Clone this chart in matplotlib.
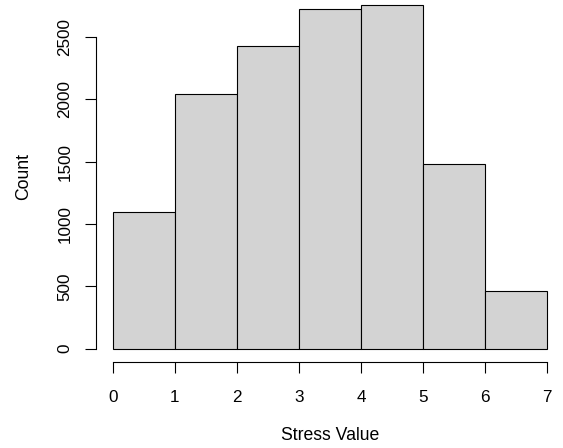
import numpy as np
import matplotlib
matplotlib.use("Agg")
import matplotlib.pyplot as plt

# histogram bins and counts
bin_edges = [0, 1, 2, 3, 4, 5, 6, 7]
counts = [1094, 2042, 2427, 2727, 2754, 1481, 460]
x_ticks = [0, 1, 2, 3, 4, 5, 6, 7]
y_ticks = [0, 500, 1000, 1500, 2000, 2500]

plt.rcParams['font.family'] = ['Liberation Sans', 'DejaVu Sans']

W, H = 563, 448
fig = plt.figure(figsize=(W / 100, H / 100), dpi=100)

# axes in pixel terms (R style, extends past the cropped top/right)
left, right, bottom, top = 95.6, 564.4, 362.4, -8.4
ax = fig.add_axes([left / W, (H - bottom) / H, (right - left) / W, (bottom - top) / H])

edges = np.array(bin_edges, dtype=float)
ax.bar(edges[:-1], counts, width=np.diff(edges), align='edge',
       color='#d3d3d3', edgecolor='black', linewidth=0.8)

ax.set_xlim(-0.28, 7.28)
ax.set_ylim(-110.2, 2864)

for s in ['top', 'right']:
    ax.spines[s].set_visible(False)
ax.spines['left'].set_bounds(0, 2500)
ax.spines['bottom'].set_bounds(0, 7)
for s in ['left', 'bottom']:
    ax.spines[s].set_linewidth(0.8)

ax.set_xticks(x_ticks)
ax.set_xticklabels([str(t) for t in x_ticks])
ax.set_yticks(y_ticks)
ax.set_yticklabels([str(t) for t in y_ticks], rotation=90, va='center')
ax.tick_params(axis='both', length=7.7, width=0.8, labelsize=12.3)
ax.tick_params(axis='x', pad=12.5)
ax.tick_params(axis='y', pad=9)

fig.text(330 / W, 1 - 435 / H, 'Stress Value', ha='center', va='center', fontsize=12.7)
fig.text(23.5 / W, 1 - 177 / H, 'Count', ha='center', va='center', rotation=90, fontsize=12.7)

fig.savefig('out.png', dpi=100)
